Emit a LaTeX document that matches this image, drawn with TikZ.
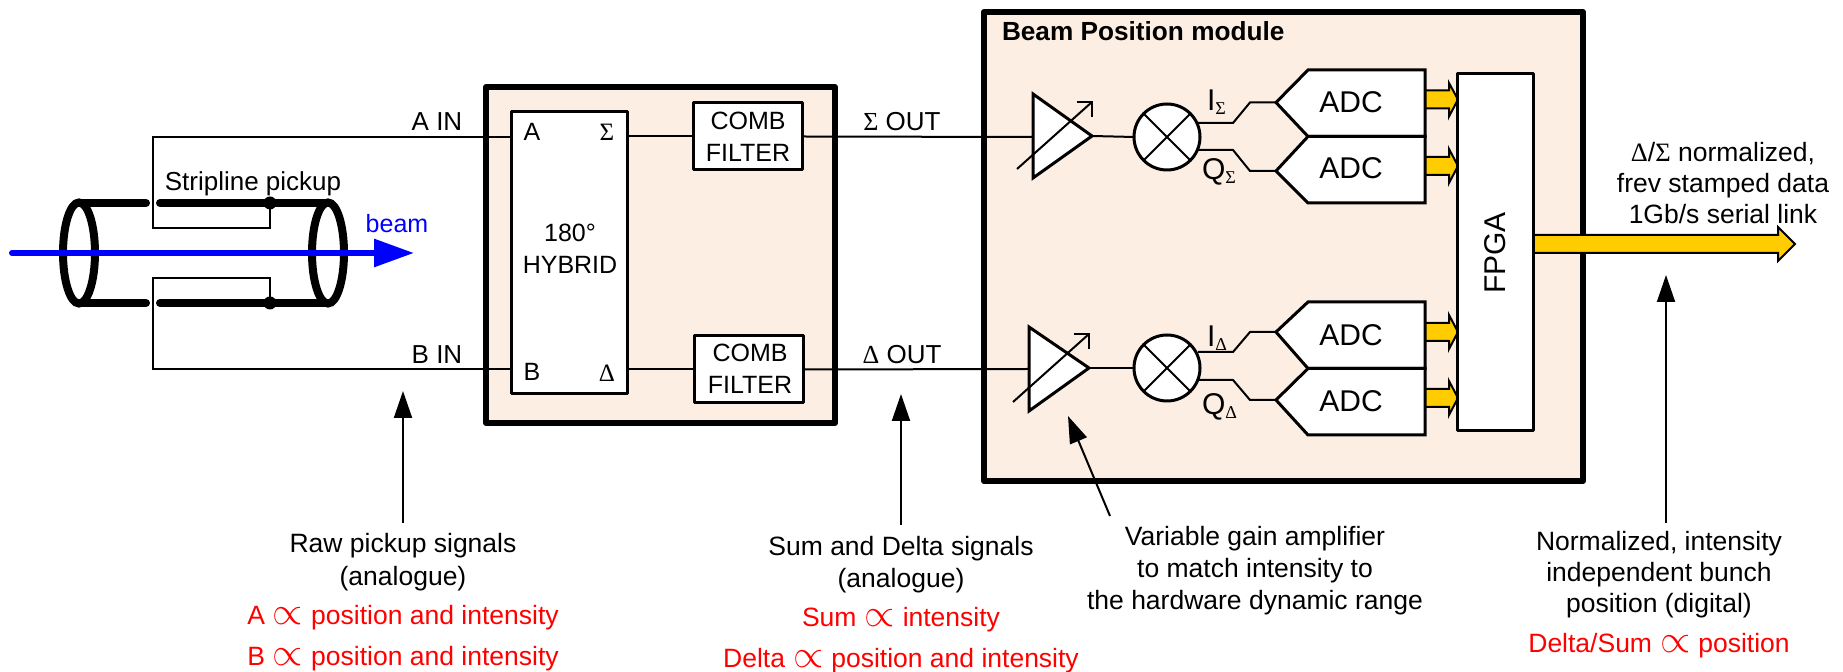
\documentclass[tikz,border=0pt]{standalone}
\usepackage{fontspec}
\setmainfont{Liberation Sans}
\newfontfamily\grk{Liberation Serif}
\usetikzlibrary{arrows.meta}
\pgfdeclarelayer{modl}
\pgfdeclarelayer{wirel}
\pgfsetlayers{modl,wirel,main}
\newcommand{\SG}{{\grk Σ}}
\newcommand{\DL}{{\grk Δ}}
\newcommand{\subSG}{\raisebox{-2pt}{\fontsize{9}{9}\selectfont\grk Σ}}
\newcommand{\subDL}{\raisebox{-2pt}{\fontsize{9}{9}\selectfont\grk Δ}}
\newcommand{\prp}{\hspace{4pt}\scalebox{1.35}{$\propto$}\hspace{4pt}}
\definecolor{modfill}{HTML}{FDEEE3}
\definecolor{busyellow}{HTML}{FFCC00}
\tikzset{
  lbl/.style={inner sep=0pt,outer sep=0pt,anchor=base,font=\fontsize{12.5}{15}\selectfont},
  lbln/.style={lbl,font=\fontsize{13.25}{15}\selectfont},
  lblbig/.style={lbl,font=\fontsize{15}{15}\selectfont},
  lblr/.style={lbln,text=red},
  module/.style={draw,line width=3pt,fill=modfill,inner sep=0pt,outer sep=0pt,line join=round},
  block/.style={draw,line width=1.5pt,fill=white,inner sep=0pt,outer sep=0pt,line join=round},
  wire/.style={line width=1pt,line join=miter},
  tube/.style={line width=4pt,line cap=round},
  dotn/.style={circle,fill=black,inner sep=0pt,minimum size=6.5pt},
  adcshape/.style={draw,line width=1.5pt,fill=white,line join=miter},
  amp/.style={draw,line width=1.5pt,fill=white,line join=miter},
  bus/.style={draw=black,line width=1pt,fill=busyellow,line join=miter},
  note/.style={line width=1pt,-{Triangle[length=13.5pt,width=9pt]}},
  mixer/.style={circle,draw,line width=1.5pt,fill=white,inner sep=0pt,outer sep=0pt,minimum size=33pt}
}
\begin{document}
\begin{tikzpicture}[x=0.5pt,y=-0.5pt]
\useasboundingbox (0,0) rectangle (1843,672);
% modules
\begin{pgfonlayer}{modl}
\node[module,minimum width=174.5pt,minimum height=168pt] (hybmod) at (660.5,255) {};
\node[module,minimum width=299.5pt,minimum height=234.5pt] (bpm) at (1283.5,246.5) {};
\end{pgfonlayer}
\node[lbl,anchor=base west,font=\fontsize{13.1}{15}\selectfont\bfseries] (bpmtitle) at (1002,41) {Beam Position module};
% named ports
\coordinate (wa) at (153,137); \coordinate (wb) at (153,369);
\coordinate (wa2) at (153,228); \coordinate (wb2) at (153,278);
\coordinate (wa3) at (270,228); \coordinate (wb3) at (270,278);
\coordinate (a1a) at (1033,94); \coordinate (a1b) at (1033,178); \coordinate (a1t) at (1092,136);
\coordinate (a2a) at (1029,327); \coordinate (a2b) at (1029,411); \coordinate (a2t) at (1089,368);
\coordinate (a1i) at (1033,137); \coordinate (a2i) at (1029,369);
% blocks
\node[block,minimum width=58pt,minimum height=141pt] (hyb) at (569,253) {};
\node[block,minimum width=54.5pt,minimum height=33.5pt] (comb1) at (747.5,136.5) {};
\node[block,minimum width=54.5pt,minimum height=33.5pt] (comb2) at (748.5,369.5) {};
\node[mixer] (mx1) at (1167,137) {};
\node[mixer] (mx2) at (1167,368) {};
% pickup tube
\coordinate (tl) at (79,253); \coordinate (tr) at (328,253);
\coordinate (tae) at (328,203); \coordinate (tbe) at (328,303);
\node[dotn] (da) at (270,203) {};
\node[dotn] (db) at (270,303) {};
% wires
\begin{pgfonlayer}{wirel}
\draw[wire] (hyb.west |- wa) -- (wa) -- (wa2) -- (wa3) -- (da.center);
\draw[wire] (hyb.west |- wb) -- (wb) -- (wb2) -- (wb3) -- (db.center);
\draw[wire] (hyb.east |- comb1.west) -- (comb1.west);
\draw[wire] (hyb.east |- comb2.west) -- (comb2.west);
\draw[wire] (comb1.east) -- (a1i);
\draw[wire] (comb2.east) -- (a2i);
\draw[wire] (a1t) -- (mx1.west);
\draw[wire] (a2t) -- (mx2.west);
\end{pgfonlayer}
\draw[tube] (tl |- tae) -- (146,203);
\draw[tube] (160,203) -- (da.center) -- (tae);
\draw[tube] (tl |- tbe) -- (146,303);
\draw[tube] (160,303) -- (db.center) -- (tbe);
\draw[line width=4pt] (tl) ellipse [x radius=16,y radius=50.5];
\draw[line width=4pt] (tr) ellipse [x radius=16,y radius=50.5];
\coordinate (bs) at (12,253); \coordinate (be) at (414,253);
\draw[line width=3pt,blue,line cap=round,-{Triangle[length=20pt,width=13.5pt]}] (bs) -- (be);
\node[lbl,text=blue] (beamt) at (397,233) {beam};
\node[lbl,font=\fontsize{13}{15}\selectfont] (strip) at (253,191) {Stripline pickup};
% labels left
\node[lbl,font=\fontsize{13}{15}\selectfont] (ain) at (437,131) {A IN};
\node[lbl,font=\fontsize{13}{15}\selectfont] (bin) at (437,364) {B IN};
\node[lbl] (pa) at (532,141) {A};
\node[lbl] (ps) at (607,141) {\SG};
\node[lbl] (pb) at (532,381) {B};
\node[lbl] (pd) at (607,382) {\DL};
\node[lbl] (h1) at (570,242) {180°};
\node[lbl] (h2) at (570,274) {HYBRID};
\node[lbl] (c1a) at (748,130) {COMB};
\node[lbl] (c1b) at (748,162) {FILTER};
\node[lbl] (c2a) at (750,362) {COMB};
\node[lbl] (c2b) at (750,394) {FILTER};
\node[lbl,font=\fontsize{13}{15}\selectfont] (sout) at (902,131) {\SG\ OUT};
\node[lbl,font=\fontsize{13}{15}\selectfont] (dout) at (902,364) {\DL\ OUT};
% amplifiers
\draw[amp] (a1a) -- (a1b) -- (a1t) -- cycle;
\draw[amp] (a2a) -- (a2b) -- (a2t) -- cycle;
\coordinate (v1s) at (1017,169); \coordinate (v1e) at (1092,102);
\coordinate (v2s) at (1013,402); \coordinate (v2e) at (1089,334);
\draw[wire] (v1s) -- (v1e);
\draw[wire] (1077,102) -- (v1e) -- (1092,117);
\draw[wire] (v2s) -- (v2e);
\draw[wire] (1074,334) -- (v2e) -- (1089,349);
% mixers
\draw[wire] (mx1.45) -- (mx1.225);
\draw[wire] (mx1.135) -- (mx1.315);
\draw[wire] (mx2.45) -- (mx2.225);
\draw[wire] (mx2.135) -- (mx2.315);
% mixer to adc
\coordinate (i1) at (1276,102.5); \coordinate (q1) at (1276,171);
\coordinate (i2) at (1276,332); \coordinate (q2) at (1276,400);
\draw[wire] (1198,123) -- (1233,123) -- (1250,102.5) -- (i1);
\draw[wire] (1198,150) -- (1233,150) -- (1250,171) -- (q1);
\draw[wire] (1198,352) -- (1233,352) -- (1250,332) -- (i2);
\draw[wire] (1198,380) -- (1233,380) -- (1250,400) -- (q2);
% bus arrows to FPGA
\draw[bus] (1425,90.5) -- (1449,90.5) -- (1449,83) -- (1458,99.5) -- (1449,116.5) -- (1449,108.5) -- (1425,108.5);
\draw[bus] (1425,157) -- (1449,157) -- (1449,149) -- (1458,166) -- (1449,183) -- (1449,175) -- (1425,175);
\draw[bus] (1425,323) -- (1449,323) -- (1449,315) -- (1458,332) -- (1449,349) -- (1449,341) -- (1425,341);
\draw[bus] (1425,389) -- (1449,389) -- (1449,381) -- (1458,398) -- (1449,415) -- (1449,407) -- (1425,407);
% ADC
\draw[adcshape] (i1) -- (1308,70) -- (1425,70) -- (1425,136.5) -- (1308,136.5) -- cycle;
\draw[adcshape] (q1) -- (1308,136.5) -- (1425,136.5) -- (1425,203) -- (1308,203) -- cycle;
\draw[adcshape] (i2) -- (1308,302) -- (1425,302) -- (1425,368.5) -- (1308,368.5) -- cycle;
\draw[adcshape] (q2) -- (1308,368.5) -- (1425,368.5) -- (1425,435) -- (1308,435) -- cycle;
\node[lblbig] (adc1) at (1351,113) {ADC};
\node[lblbig] (adc2) at (1351,179) {ADC};
\node[lblbig] (adc3) at (1351,346) {ADC};
\node[lblbig] (adc4) at (1351,412) {ADC};
\node[lblbig,anchor=base west] (il1) at (1207,111) {I\subSG};
\node[lblbig,anchor=base west] (ql1) at (1202,180) {Q\subSG};
\node[lblbig,anchor=base west] (il2) at (1207,347) {I\subDL};
\node[lblbig,anchor=base west] (ql2) at (1202,415) {Q\subDL};
% output bus
\draw[bus] (1533,235) -- (1778,235) -- (1778,227) -- (1795,244) -- (1778,261) -- (1778,253) -- (1533,253);
% FPGA
\node[block,minimum width=38pt,minimum height=178.5pt] (fpga) at (1495,252.5) {};
\node[lblbig,anchor=center,rotate=90] (fpgat) at (1495,253) {FPGA};
% output text
\node[lbln] (o1) at (1723,162) {\DL/\SG\ normalized,};
\node[lbln] (o2) at (1723,193) {frev stamped data};
\node[lbln] (o3) at (1723,224) {1Gb/s serial link};
% annotations
\coordinate (n1s) at (403,523); \coordinate (n1e) at (403,391);
\coordinate (n2s) at (901,525); \coordinate (n2e) at (901,394);
\coordinate (n3s) at (1110,516); \coordinate (n3e) at (1068,416);
\coordinate (n4s) at (1666,523); \coordinate (n4e) at (1666,275);
\draw[note] (n1s) -- (n1e);
\draw[note] (n2s) -- (n2e);
\draw[note] (n3s) -- (n3e);
\draw[note] (n4s) -- (n4e);
% bottom text
\node[lbln] (r1) at (403,553) {Raw pickup signals};
\node[lbln] (r2) at (403,586) {(analogue)};
\node[lblr] (r3) at (403,625) {A\prp position and intensity};
\node[lblr] (r4) at (403,666) {B\prp position and intensity};
\node[lbln] (s1) at (901,556) {Sum and Delta signals};
\node[lbln] (s2) at (901,588) {(analogue)};
\node[lblr] (s3) at (901,627) {Sum\prp intensity};
\node[lblr] (s4) at (901,668) {Delta\prp position and intensity};
\node[lbln] (v1) at (1255,546) {Variable gain amplifier};
\node[lbln] (v2) at (1255,578) {to match intensity to};
\node[lbln] (v3) at (1255,610) {the hardware dynamic range};
\node[lbln] (p1) at (1659,551) {Normalized, intensity};
\node[lbln] (p2) at (1659,582) {independent bunch};
\node[lbln] (p3) at (1659,613) {position (digital)};
\node[lblr] (p4) at (1659,653) {Delta/Sum\prp position};
\end{tikzpicture}
\end{document}
